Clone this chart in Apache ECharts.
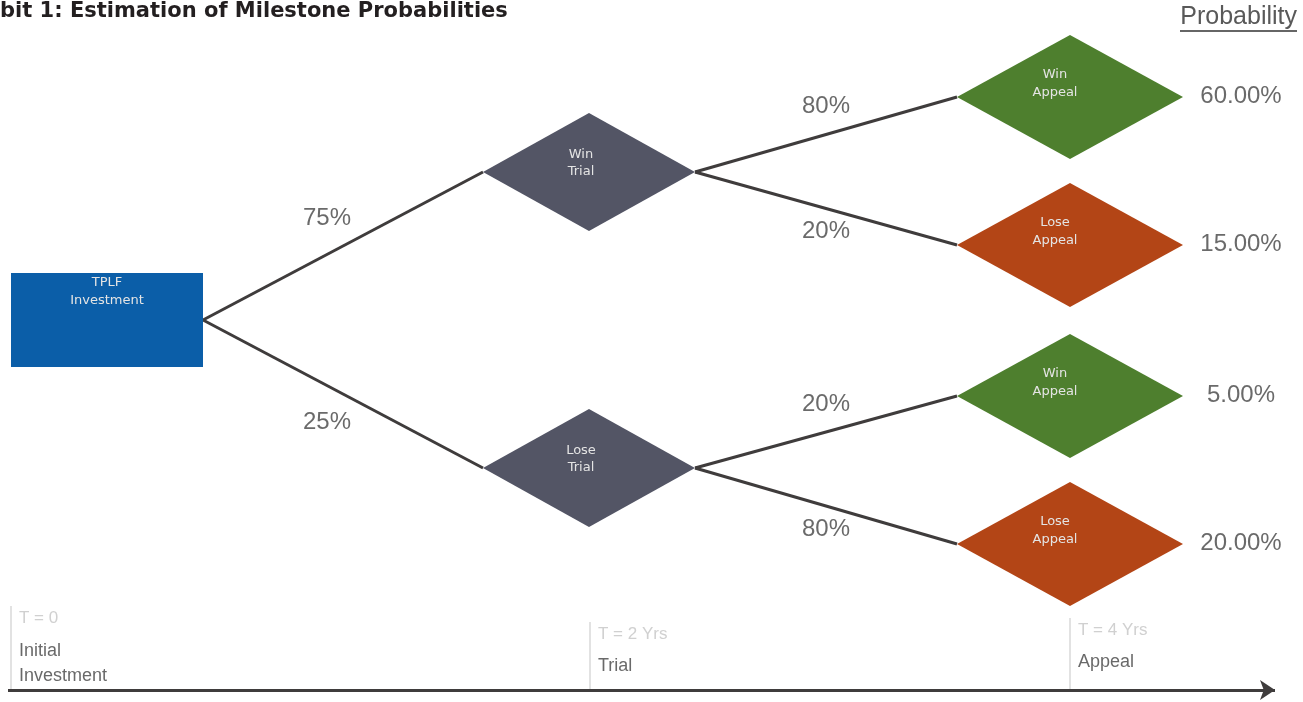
<!DOCTYPE html>
<html>
<head>
<meta charset="utf-8">
<script src="https://cdn.jsdelivr.net/npm/echarts@6/dist/echarts.min.js"></script>
<style>
  html, body { margin: 0; padding: 0; background: #fff; }
  #chart { width: 1303px; height: 702px; }
</style>
</head>
<body>
<div id="chart"></div>
<script>
// 数据
const rootName = 'TPLF\nInvestment';
const trialNodes = ['Win\nTrial', 'Lose\nTrial'];
const trialPct = [75, 25];
const appealNodes = ['Win\nAppeal', 'Lose\nAppeal', 'Win\nAppeal', 'Lose\nAppeal'];
const appealPct = [80, 20, 20, 80];
const outcomePct = [60, 15, 5, 20];
const stageTimes = ['T = 0', 'T = 2 Yrs', 'T = 4 Yrs'];
const stageNames = ['Initial\nInvestment', 'Trial', 'Appeal'];

// 布局 (隐藏坐标轴上的单位)
const rootBox = { x: 107, y: 320, hw: 96, hh: 47 };
const trialX = 589, trialY = [172, 468], trialHW = 106, trialHH = 59;
const appealX = 1070, appealY = [97, 245, 396, 544], appealHW = 113, appealHH = 62;
const stageX = [11, 590, 1070];
const stageTop = [606, 622, 618];
const stageTimeY = [618, 634, 630];
const stageNameTop = [639, 654, 650];
const timelineY = 690;

const colors = {
    root: '#0b5ea8', trial: '#535565', win: '#4e7f2e', lose: '#b34516',
    line: '#3f3c3c', text: '#454545'
};

// 节点
const nodes = [];
nodes.push({ name: rootName, x: rootBox.x, y: rootBox.y, hw: rootBox.hw, hh: rootBox.hh,
    shape: 'rect', color: colors.root, tx: 0, ty: -46, lh: 18 });
trialNodes.forEach((n, i) => nodes.push({ name: n, x: trialX, y: trialY[i], hw: trialHW, hh: trialHH,
    shape: 'diamond', color: colors.trial, tx: -8, ty: -26, lh: 17 }));
appealNodes.forEach((n, i) => nodes.push({ name: n, x: appealX, y: appealY[i], hw: appealHW, hh: appealHH,
    shape: 'diamond', color: i % 2 === 0 ? colors.win : colors.lose, tx: -15, ty: -31, lh: 18 }));

// 连线
const edges = [];
const edgeLabels = [];
trialY.forEach((ty, i) => {
    const a = [rootBox.x + rootBox.hw, rootBox.y];
    const b = [trialX - trialHW, ty];
    edges.push({ coords: [a, b] });
    const t = 0.443;
    const up = b[1] < a[1];
    edgeLabels.push({ value: [a[0] + (b[0] - a[0]) * t, a[1] + (b[1] - a[1]) * t + (up ? -36 : 37)], text: trialPct[i] + '%' });
});
appealY.forEach((ay, i) => {
    const a = [trialX + trialHW, trialY[Math.floor(i / 2)]];
    const b = [appealX - appealHW, ay];
    edges.push({ coords: [a, b] });
    const up = b[1] < a[1];
    edgeLabels.push({ value: [(a[0] + b[0]) / 2, (a[1] + b[1]) / 2 + (up ? -28 : 23)], text: appealPct[i] + '%' });
});

const outcomeLabels = appealY.map((ay, i) => ({ value: [1241, ay - 1], text: outcomePct[i].toFixed(2) + '%' }));

const stageLines = stageX.map((x, i) => ({ coords: [[x, stageTop[i]], [x, timelineY]] }));
const timeLabels = stageX.map((x, i) => ({ value: [x + 8, stageTimeY[i]], text: stageTimes[i] }));
const nameLabels = stageX.map((x, i) => ({ value: [x + 8, stageNameTop[i]], text: stageNames[i] }));

const textLabel = (size, color, align, vAlign, lh) => ({
    show: true, position: 'inside', formatter: p => p.data.text,
    fontFamily: '"Liberation Sans", Arial, sans-serif', fontSize: size, color: color,
    align: align, verticalAlign: vAlign, lineHeight: lh
});

const chart = echarts.init(document.getElementById('chart'));
chart.setOption({
    animation: false,
    backgroundColor: '#ffffff',
    title: [{
        text: 'bit 1: Estimation of Milestone Probabilities',
        left: 0, top: 1, padding: 0,
        textStyle: { fontFamily: '"DejaVu Sans"', fontWeight: 'bold', fontSize: 21, color: '#231f20' }
    }, {
        text: 'Probability',
        right: 6, top: 5, padding: 0,
        textStyle: { fontFamily: '"Liberation Sans", Arial', fontWeight: 'normal', fontSize: 25, color: '#595959' }
    }],
    graphic: [{
        type: 'line', shape: { x1: 1180, y1: 31, x2: 1297, y2: 31 },
        style: { stroke: '#666', lineWidth: 2 }
    }],
    grid: { left: 0, right: 0, top: 0, bottom: 0 },
    xAxis: { type: 'value', min: 0, max: 1303, show: false },
    yAxis: { type: 'value', min: 0, max: 702, inverse: true, show: false },
    series: [{
        type: 'lines', coordinateSystem: 'cartesian2d', z: 1,
        lineStyle: { color: colors.line, width: 3, opacity: 1 },
        data: edges
    }, {
        type: 'custom', coordinateSystem: 'cartesian2d', z: 2,
        data: nodes.map(n => [n.x, n.y]),
        renderItem: (params, api) => {
            const n = nodes[params.dataIndex];
            const pts = n.shape === 'rect'
                ? [[n.x - n.hw, n.y - n.hh], [n.x + n.hw, n.y - n.hh], [n.x + n.hw, n.y + n.hh], [n.x - n.hw, n.y + n.hh]]
                : [[n.x, n.y - n.hh], [n.x + n.hw, n.y], [n.x, n.y + n.hh], [n.x - n.hw, n.y]];
            const pos = api.coord([n.x + n.tx, n.y + n.ty]);
            return {
                type: 'group',
                children: [{
                    type: 'polygon', shape: { points: pts.map(p => api.coord(p)) },
                    style: { fill: n.color }
                }, {
                    type: 'text', x: pos[0], y: pos[1],
                    style: {
                        text: n.name, fill: '#e4e4e4', font: '13px "DejaVu Sans"',
                        align: 'center', verticalAlign: 'top', lineHeight: n.lh
                    }
                }]
            };
        }
    }, {
        type: 'scatter', symbolSize: 0, z: 3,
        data: edgeLabels,
        label: textLabel(24, colors.text, 'center', 'middle', 24)
    }, {
        type: 'scatter', symbolSize: 0, z: 3,
        data: outcomeLabels,
        label: textLabel(24, colors.text, 'center', 'middle', 24)
    }, {
        type: 'lines', coordinateSystem: 'cartesian2d', z: 1,
        lineStyle: { color: '#d9d9d9', width: 1.5, opacity: 1 },
        data: stageLines
    }, {
        type: 'lines', coordinateSystem: 'cartesian2d', z: 2,
        symbol: ['none', 'arrow'], symbolSize: 15,
        lineStyle: { color: '#3f3c3c', width: 3, opacity: 1 },
        data: [{ coords: [[8, timelineY], [1275, timelineY]] }]
    }, {
        type: 'scatter', symbolSize: 0, z: 3,
        data: timeLabels,
        label: textLabel(17, '#c4c4c4', 'left', 'middle', 20)
    }, {
        type: 'scatter', symbolSize: 0, z: 3,
        data: nameLabels,
        label: textLabel(18, '#444444', 'left', 'top', 25)
    }]
});
</script>
</body>
</html>
